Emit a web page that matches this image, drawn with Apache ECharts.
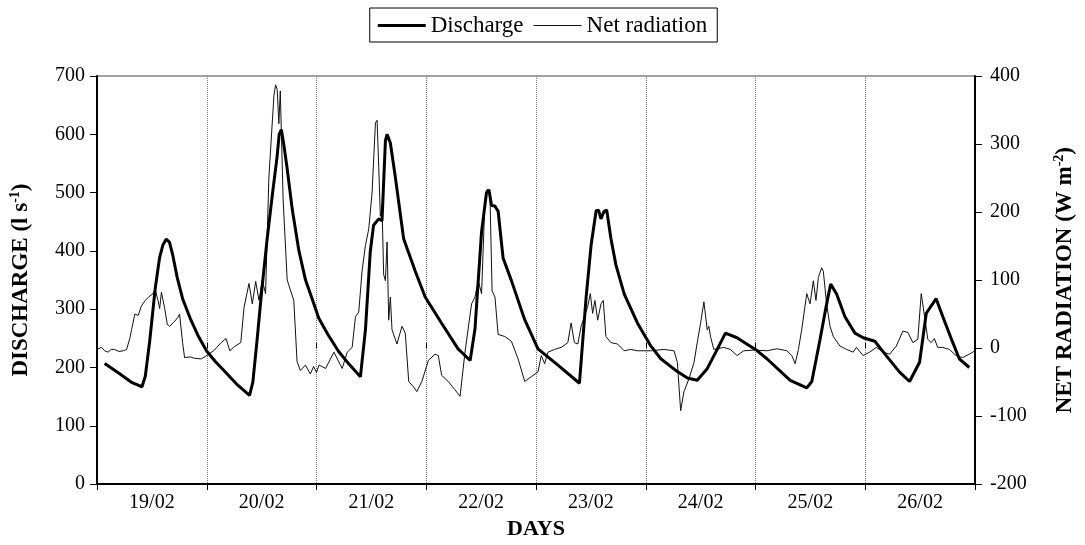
<!DOCTYPE html>
<html>
<head>
<meta charset="utf-8">
<script src="https://cdn.jsdelivr.net/npm/echarts@6/dist/echarts.min.js"></script>
<style>
html,body{margin:0;padding:0;background:#fff;}
#chart{width:1085px;height:545px;}
</style>
</head>
<body>
<div id="chart"></div>
<script>
// Day labels (categories)
const dayLabels = ['19/02','20/02','21/02','22/02','23/02','24/02','25/02','26/02'];

// Discharge (l s-1): time in days from start of 19/02, values
const dischargeDays = [0.07,0.20,0.32,0.41,0.44,0.48,0.53,0.57,0.60,0.63,0.66,0.69,0.73,0.78,0.85,0.92,1.00,1.08,1.18,1.28,1.39,1.42,1.46,1.50,1.55,1.60,1.64,1.66,1.68,1.70,1.73,1.78,1.84,1.90,1.96,2.02,2.10,2.20,2.30,2.40,2.446,2.49,2.52,2.567,2.597,2.628,2.643,2.673,2.718,2.794,2.90,2.99,3.14,3.29,3.40,3.444,3.504,3.549,3.571,3.595,3.625,3.655,3.70,3.776,3.897,4.018,4.20,4.396,4.457,4.502,4.548,4.57,4.592,4.62,4.644,4.683,4.728,4.804,4.925,5.046,5.137,5.288,5.379,5.469,5.56,5.651,5.726,5.832,5.923,6.014,6.104,6.316,6.467,6.513,6.588,6.649,6.685,6.739,6.815,6.906,6.981,7.087,7.193,7.313,7.404,7.495,7.556,7.646,7.707,7.797,7.857,7.948];
const dischargeValues = [207,190,174,167,185,245,335,388,410,420,415,393,355,318,284,255,228,210,190,170,152,175,250,330,420,500,560,600,608,585,545,470,400,350,318,285,258,228,205,184,265,399,444,455,452,589,600,585,527,421,365,321,276,232,212,266,433,500,505,478,477,468,388,349,282,232,204,173,321,410,469,470,455,468,470,421,376,326,276,237,215,193,182,178,198,231,259,251,240,229,215,178,165,176,248,310,343,326,287,259,251,245,220,192,176,209,293,318,287,243,215,200];

// Net radiation (W m-2): time in days, values
const radiationDays = [0.00,0.04,0.07,0.10,0.13,0.16,0.20,0.24,0.27,0.30,0.315,0.345,0.375,0.405,0.44,0.47,0.51,0.53,0.556,0.571,0.587,0.617,0.64,0.662,0.70,0.737,0.752,0.78,0.798,0.85,0.889,0.95,1.01,1.07,1.13,1.176,1.21,1.25,1.31,1.34,1.385,1.415,1.446,1.476,1.506,1.536,1.566,1.612,1.627,1.642,1.657,1.67,1.696,1.733,1.793,1.823,1.853,1.899,1.944,1.974,2.00,2.023,2.083,2.159,2.234,2.28,2.325,2.355,2.385,2.415,2.446,2.476,2.506,2.537,2.552,2.567,2.582,2.597,2.612,2.628,2.643,2.658,2.673,2.688,2.733,2.779,2.809,2.84,2.884,2.914,2.96,3.02,3.08,3.11,3.14,3.20,3.26,3.308,3.353,3.413,3.444,3.474,3.504,3.535,3.556,3.58,3.60,3.626,3.655,3.716,3.776,3.837,3.897,3.958,4.018,4.048,4.079,4.109,4.169,4.23,4.29,4.32,4.35,4.381,4.411,4.441,4.471,4.495,4.516,4.537,4.562,4.592,4.613,4.637,4.683,4.743,4.804,4.864,4.925,5.046,5.167,5.258,5.288,5.318,5.348,5.394,5.44,5.469,5.50,5.53,5.56,5.575,5.59,5.62,5.711,5.771,5.832,5.892,5.983,6.104,6.195,6.286,6.331,6.361,6.391,6.421,6.467,6.497,6.527,6.551,6.573,6.603,6.618,6.648,6.679,6.709,6.769,6.83,6.89,6.92,6.98,7.041,7.101,7.162,7.222,7.283,7.343,7.388,7.434,7.479,7.51,7.525,7.549,7.57,7.60,7.63,7.66,7.706,7.767,7.827,7.888,7.948,8.00];
const radiationValues = [-2,1,-4,-6,-2,-2,-5,-4,-2,15,27,50,48,62,70,75,80,86,70,58,82,58,35,32,38,45,50,8,-14,-13,-15,-16,-10,-3,8,14,-4,2,8,60,95,65,98,70,100,80,250,371,387,380,330,378,218,100,70,-20,-33,-25,-38,-27,-36,-25,-30,-6,-30,-6,1,46,53,113,151,175,228,331,335,266,194,209,108,99,156,41,75,27,6,32,22,-49,-57,-64,-49,-18,-9,-11,-40,-49,-61,-71,-6,65,75,99,80,218,233,228,84,75,20,17,10,-16,-49,-42,-35,-11,-23,-6,-2,1,8,37,8,6,32,46,61,80,51,70,41,65,70,17,8,6,-4,-2,-4,-4,-2,-4,-21,-92,-64,-45,-21,8,37,68,27,32,17,-2,1,-2,-11,-4,-3,-4,-1,-4,-11,-23,-2,27,80,65,99,70,104,118,113,65,32,17,3,-2,-6,1,-11,-6,1,-6,-9,3,25,23,8,13,80,82,37,13,8,14,1,1,-2,-11,-14,-9,-4];

const FONT = 'Liberation Serif';
const pair = (xs, ys) => xs.map((x, i) => [x, ys[i]]);

const chart = echarts.init(document.getElementById('chart'), null, {renderer: 'canvas'});
const boldRich = {
  b: {fontFamily: FONT, fontWeight: 'bold', fontSize: 23, color: '#000', lineHeight: 27},
  s: {fontFamily: FONT, fontWeight: 'bold', fontSize: 14, color: '#000', verticalAlign: 'top', lineHeight: 14}
};
chart.setOption({
  animation: false,
  backgroundColor: '#fff',
  textStyle: {fontFamily: FONT, color: '#000'},
  legend: {
    top: 8, left: 'center',
    data: [
      {name: 'Discharge', icon: 'path://M0,0H48V3H0Z'},
      {name: 'Net radiation', icon: 'path://M0,0H48V1H0Z'}
    ],
    itemWidth: 48, itemHeight: 14, itemGap: 10,
    borderColor: '#000', borderWidth: 1, padding: [6, 10, 5, 8],
    textStyle: {fontFamily: FONT, fontSize: 23, color: '#000'}
  },
  grid: {left: 97, right: 105, top: 76, bottom: 51, show: true, borderColor: '#444', borderWidth: 1, containLabel: false},
  xAxis: [
    {
      type: 'category', position: 'bottom', data: dayLabels, boundaryGap: true,
      name: 'DAYS', nameLocation: 'middle', nameGap: 33,
      nameTextStyle: {fontFamily: FONT, fontWeight: 'bold', fontSize: 22, color: '#000'},
      axisLine: {lineStyle: {color: '#000', width: 2}},
      axisTick: {show: true, length: 6, lineStyle: {color: '#000', width: 1}},
      axisLabel: {fontFamily: FONT, fontSize: 20, color: '#000', margin: 9},
      splitLine: {show: true, lineStyle: {color: '#777', type: 'dotted', width: 1}}
    },
    {
      type: 'value', position: 'bottom', min: 0, max: 8, interval: 1,
      axisLine: {show: false},
      axisTick: {show: true, inside: true, length: 5, lineStyle: {color: '#000', width: 1}},
      axisLabel: {show: false},
      splitLine: {show: false}
    }
  ],
  yAxis: [
    {
      type: 'value', position: 'left', min: 0, max: 700, interval: 100,
      name: '{b|DISCHARGE (l s}{s|-1}{b|)}', nameLocation: 'middle', nameGap: 62,
      nameTextStyle: {rich: boldRich},
      axisLine: {show: true, lineStyle: {color: '#000', width: 2}},
      axisTick: {show: true, length: 7, lineStyle: {color: '#000', width: 1}},
      axisLabel: {fontFamily: FONT, fontSize: 20, color: '#000', margin: 12},
      splitLine: {show: false}
    },
    {
      type: 'value', position: 'right', min: -200, max: 400, interval: 100,
      name: '{b|NET RADIATION (W m}{s|-2}{b|)}', nameLocation: 'middle', nameGap: 77,
      nameTextStyle: {rich: boldRich},
      axisLine: {show: true, lineStyle: {color: '#000', width: 2}},
      axisTick: {show: true, length: 7, lineStyle: {color: '#000', width: 1}},
      axisLabel: {fontFamily: FONT, fontSize: 20, color: '#000', margin: 15},
      splitLine: {show: false}
    }
  ],
  series: [
    {
      name: 'Discharge', type: 'line', xAxisIndex: 1, yAxisIndex: 0,
      data: pair(dischargeDays, dischargeValues),
      symbol: 'none', showSymbol: false, z: 3,
      lineStyle: {color: '#000', width: 3}, itemStyle: {color: '#000'}
    },
    {
      name: 'Net radiation', type: 'line', xAxisIndex: 1, yAxisIndex: 1,
      data: pair(radiationDays, radiationValues),
      symbol: 'none', showSymbol: false, z: 2,
      lineStyle: {color: '#111', width: 1}, itemStyle: {color: '#111'}
    }
  ]
});
</script>
</body>
</html>
